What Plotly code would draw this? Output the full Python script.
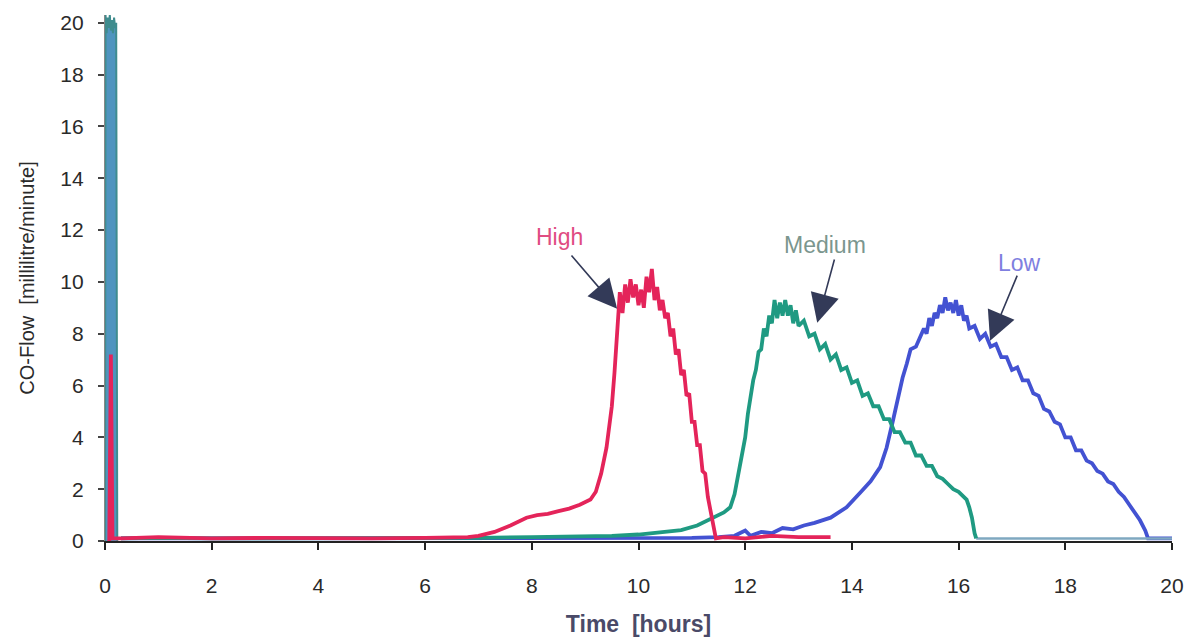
import plotly.graph_objects as go

# ---------------- data ----------------
spike_time = [0.0, 0.01, 0.03, 0.05, 0.07, 0.09, 0.11, 0.13, 0.15, 0.17, 0.19, 0.21, 0.23]
spike_flow = [0.0, 20.3, 19.6, 20.2, 19.8, 20.3, 19.7, 20.1, 19.6, 20.2, 19.8, 20.0, 0.0]

high_time = [0.08, 0.11, 0.14, 0.3, 1.0, 2.0, 3.0, 4.0, 5.0, 6.0,
             6.8, 7.0, 7.3, 7.6, 7.9, 8.1, 8.3, 8.5, 8.7, 8.9,
             9.1, 9.2, 9.3, 9.4, 9.5, 9.55, 9.6, 9.65, 9.7, 9.75,
             9.8, 9.85, 9.9, 9.95, 10.0, 10.05, 10.1, 10.15, 10.2, 10.25,
             10.3, 10.35, 10.4, 10.45, 10.5, 10.55, 10.6, 10.65, 10.7, 10.75,
             10.8, 10.85, 10.9, 10.95, 11.0, 11.05, 11.1, 11.15, 11.2, 11.25,
             11.3, 11.35, 11.4, 11.45, 11.6, 12.0, 12.5, 13.0, 13.6]
high_flow = [0.0, 7.2, 0.1, 0.1, 0.15, 0.1, 0.12, 0.1, 0.1, 0.12,
             0.15, 0.2, 0.35, 0.6, 0.9, 1.0, 1.05, 1.15, 1.25, 1.4,
             1.6, 1.9, 2.6, 3.6, 5.2, 6.5, 8.0, 9.6, 8.8, 9.9,
             9.2, 10.1, 9.4, 9.9, 9.1, 9.7, 9.0, 10.2, 9.6, 10.5,
             9.3, 9.8, 8.9, 9.3, 8.6, 8.8, 7.9, 8.2, 7.2, 7.4,
             6.4, 6.6, 5.6, 5.7, 4.6, 4.6, 3.7, 3.7, 2.7, 2.6,
             1.7, 1.2, 0.6, 0.1, 0.15, 0.1, 0.2, 0.15, 0.15]

medium_time = [0.3, 1.0, 2.0, 3.0, 4.0, 5.0, 6.0, 7.0, 8.0, 9.0,
               9.5, 10.0, 10.5, 10.8, 11.1, 11.4, 11.6, 11.72, 11.8, 11.9,
               12.0, 12.05, 12.1, 12.15, 12.2, 12.25, 12.3, 12.35, 12.4, 12.45,
               12.5, 12.55, 12.6, 12.65, 12.7, 12.75, 12.8, 12.85, 12.9, 12.95,
               13.0, 13.1, 13.2, 13.3, 13.4, 13.5, 13.6, 13.7, 13.8, 13.9,
               14.0, 14.1, 14.2, 14.3, 14.4, 14.5, 14.6, 14.7, 14.8, 14.9,
               15.0, 15.1, 15.2, 15.3, 15.4, 15.5, 15.6, 15.7, 15.8, 15.9,
               16.0, 16.1, 16.15, 16.2, 16.25, 16.3, 16.33]
medium_flow = [0.1, 0.12, 0.1, 0.1, 0.12, 0.1, 0.12, 0.12, 0.15, 0.18,
               0.2, 0.25, 0.35, 0.42, 0.6, 0.88, 1.1, 1.3, 1.8, 2.9,
               4.0, 4.9, 5.6, 6.2, 6.6, 7.3, 7.4, 8.2, 7.9, 8.7,
               8.4, 9.3, 8.6, 9.2, 8.7, 9.3, 8.7, 9.1, 8.4, 8.9,
               8.3, 8.5, 7.9, 8.0, 7.4, 7.6, 7.0, 7.2, 6.6, 6.7,
               6.1, 6.2, 5.6, 5.7, 5.2, 5.2, 4.7, 4.7, 4.2, 4.2,
               3.8, 3.8, 3.3, 3.3, 2.9, 2.9, 2.5, 2.4, 2.2, 2.0,
               1.9, 1.7, 1.6, 1.3, 0.9, 0.3, 0.1]

# flat tail after the Medium peak ends (drawn in a lighter tint)
tail_time = [16.33, 17.0, 18.0, 19.0, 20.0]
tail_flow = [0.1, 0.1, 0.12, 0.1, 0.1]

low_time = [0.3, 1.0, 2.0, 3.0, 4.0, 5.0, 6.0, 7.0, 8.0, 9.0,
            10.0, 11.0, 11.5, 11.8, 12.0, 12.1, 12.3, 12.5, 12.7, 12.9,
            13.1, 13.3, 13.6, 13.9, 14.15, 14.35, 14.53, 14.65, 14.77, 14.85,
            14.95, 15.03, 15.1, 15.2, 15.28, 15.35, 15.4, 15.45, 15.5, 15.55,
            15.6, 15.65, 15.7, 15.75, 15.8, 15.85, 15.9, 15.95, 16.0, 16.05,
            16.1, 16.15, 16.2, 16.3, 16.4, 16.5, 16.6, 16.7, 16.8, 16.9,
            17.0, 17.1, 17.2, 17.3, 17.4, 17.5, 17.6, 17.7, 17.8, 17.9,
            18.0, 18.1, 18.2, 18.3, 18.4, 18.5, 18.6, 18.7, 18.8, 18.9,
            19.0, 19.1, 19.2, 19.3, 19.4, 19.5, 19.55, 20.0]
low_flow = [0.1, 0.1, 0.12, 0.1, 0.1, 0.12, 0.1, 0.1, 0.1, 0.1,
            0.1, 0.12, 0.15, 0.2, 0.4, 0.2, 0.35, 0.3, 0.5, 0.45,
            0.6, 0.7, 0.9, 1.3, 1.85, 2.3, 2.85, 3.6, 4.65, 5.4,
            6.3, 6.85, 7.4, 7.5, 7.9, 8.2, 8.0, 8.6, 8.3, 8.8,
            8.6, 9.1, 8.8, 9.4, 8.9, 9.2, 8.8, 9.3, 8.7, 9.1,
            8.5, 8.7, 8.2, 8.3, 7.8, 8.0, 7.5, 7.6, 7.1, 7.1,
            6.6, 6.7, 6.2, 6.2, 5.7, 5.6, 5.1, 5.0, 4.6, 4.5,
            4.0, 4.0, 3.5, 3.5, 3.1, 3.0, 2.7, 2.6, 2.3, 2.2,
            1.9, 1.7, 1.4, 1.1, 0.8, 0.4, 0.1, 0.1]

x_ticks = [0, 2, 4, 6, 8, 10, 12, 14, 16, 18, 20]
y_ticks = [0, 2, 4, 6, 8, 10, 12, 14, 16, 18, 20]

# annotation anchors: (label, text position, arrow tip, arrow tail)
labels = ["High", "Medium", "Low"]
label_pos = [(8.51, 11.73), (13.5, 11.42), (17.15, 10.73)]
arrow_tip = [(9.6, 8.96), (13.35, 8.42), (16.59, 7.73)]
arrow_tail = [(8.72, 11.08), (13.68, 10.92), (17.11, 10.3)]

HIGH_C = "#e4245a"
MED_C = "#1f9a82"
LOW_C = "#4352d2"
label_colors = ["#e04c82", "#7b968e", "#7f7fe0"]

fig = go.Figure()

fig.add_trace(go.Scatter(x=spike_time, y=spike_flow, mode="lines", fill="tozeroy",
                         fillcolor="#4f94bf", line=dict(color="#3f8c8e", width=2),
                         hoverinfo="skip", showlegend=False))
fig.add_trace(go.Scatter(x=low_time, y=low_flow, mode="lines", name="Low",
                         line=dict(color=LOW_C, width=3.8)))
fig.add_trace(go.Scatter(x=tail_time, y=tail_flow, mode="lines", name="Medium tail",
                         line=dict(color="#7fa8c0", width=2.5)))
fig.add_trace(go.Scatter(x=medium_time, y=medium_flow, mode="lines", name="Medium",
                         line=dict(color=MED_C, width=3.8)))
fig.add_trace(go.Scatter(x=high_time, y=high_flow, mode="lines", name="High",
                         line=dict(color=HIGH_C, width=3.8)))

annotations = []
for lab, (tx, ty), col in zip(labels, label_pos, label_colors):
    annotations.append(dict(x=tx, y=ty, xref="x", yref="y", text=lab, showarrow=False,
                            font=dict(family="Liberation Sans, Arial", size=23, color=col)))
for (hx, hy), (tx, ty) in zip(arrow_tip, arrow_tail):
    annotations.append(dict(x=hx, y=hy, xref="x", yref="y", ax=tx, ay=ty,
                            axref="x", ayref="y", text="", showarrow=True,
                            arrowhead=2, arrowsize=3.6, arrowwidth=1.6,
                            arrowcolor="#333a58"))

fig.update_layout(
    width=1202, height=642,
    margin=dict(l=105, r=30, t=15, b=101),
    plot_bgcolor="white", paper_bgcolor="white",
    showlegend=False,
    annotations=annotations,
    font=dict(family="Liberation Sans, Arial", color="#333333"),
)
fig.update_xaxes(
    range=[0, 20], tickvals=x_ticks, ticktext=[str(v) for v in x_ticks],
    ticks="outside", ticklen=7, tickwidth=1.5, tickcolor="#222",
    showline=True, linecolor="#222", linewidth=1.5,
    showgrid=False, zeroline=False,
    tickfont=dict(size=21, color="#2a2a2a"), ticklabelstandoff=18,
    title=dict(text="<b>Time\u00a0\u00a0[hours]</b>", font=dict(size=23, color="#4a4a68"), standoff=20),
    automargin=False,
)
fig.update_yaxes(
    range=[0, 20.3], tickvals=y_ticks, ticktext=[str(v) for v in y_ticks],
    ticks="outside", ticklen=6, tickwidth=1.5, tickcolor="#444",
    showline=True, linecolor="#888", linewidth=1.2,
    showgrid=False, zeroline=False,
    tickfont=dict(size=21, color="#2a2a2a"), ticklabelstandoff=10,
    title=dict(text="CO-Flow\u00a0\u00a0[millilitre/minute]", font=dict(size=20, color="#2a2a2a"), standoff=20),
    automargin=False,
)

fig.write_html("out.html")
